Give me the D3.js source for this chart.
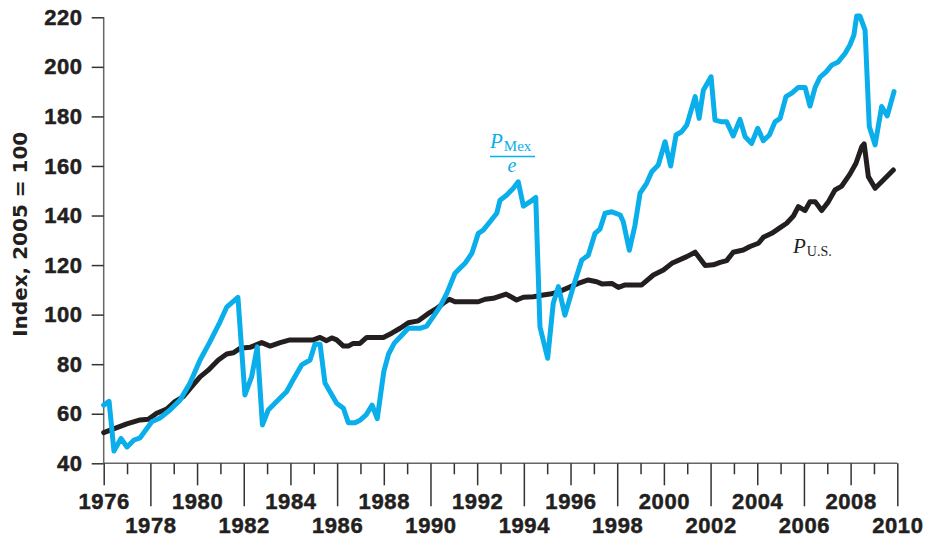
<!DOCTYPE html>
<html><head><meta charset="utf-8">
<script src="https://cdn.jsdelivr.net/npm/d3@7"></script>
<style>
html,body{margin:0;padding:0;background:#fff;}
svg{display:block;}
</style></head>
<body>
<svg id="chart" width="929" height="537"></svg>
<script>
// ---- data ----
const mexYears = [1976.0,1976.23,1976.44,1976.74,1977.0,1977.3,1977.56,1978.06,1978.41,1978.84,1979.27,1979.7,1980.13,1980.55,1980.98,1981.27,1981.75,1982.05,1982.34,1982.58,1982.8,1983.05,1983.41,1983.84,1984.11,1984.48,1984.84,1985.05,1985.27,1985.48,1985.98,1986.27,1986.48,1986.77,1987.0,1987.24,1987.5,1987.72,1988.0,1988.2,1988.45,1988.7,1989.05,1989.55,1989.84,1990.12,1990.41,1990.7,1991.05,1991.48,1991.77,1992.05,1992.26,1992.55,1992.84,1992.98,1993.27,1993.55,1993.76,1993.98,1994.27,1994.51,1994.69,1995.02,1995.26,1995.48,1995.76,1996.12,1996.48,1996.76,1997.05,1997.26,1997.48,1997.77,1998.13,1998.26,1998.52,1998.76,1998.98,1999.26,1999.48,1999.76,2000.05,2000.29,2000.52,2000.76,2000.98,2001.34,2001.51,2001.69,2002.02,2002.19,2002.48,2002.69,2002.97,2003.26,2003.48,2003.76,2004.02,2004.26,2004.52,2004.76,2004.98,2005.23,2005.48,2005.76,2006.05,2006.26,2006.48,2006.69,2006.95,2007.19,2007.47,2007.76,2007.97,2008.14,2008.26,2008.4,2008.62,2008.8,2009.05,2009.33,2009.57,2009.86];
const mexValues = [63.5,65,45,50,46.6,49.4,50.3,56.8,58.3,61.5,65.5,72.4,81.7,89,97,103,107,67.6,75,87,55.5,61.5,64.9,69,73.6,79.7,81.7,88,88,72.4,64.2,62.2,56.4,56.4,57.5,59.5,63.5,58,77,84,88.5,91,94.5,94.5,95.4,99.2,103.2,108.6,116.7,120.7,124.7,132.8,134.1,137.5,140.9,146.2,148.3,151,153.6,143.8,145.6,147.3,95.1,82.4,104.6,111.3,99.8,111.3,122,124,132.8,134.5,140.9,141.5,140.2,137.5,126,136,149,153,157.7,160.4,169.8,160,172.5,173.8,176.5,188,179.2,190.6,196,178.5,177.8,177.8,172.1,178.8,171.8,169.1,175.2,170.2,172.5,177.8,179.2,188,189.4,191.7,191.7,184.2,191.7,195.8,198,200.7,202,205.4,208.8,212.8,220.5,220.5,214.8,175.9,168.5,184,180.2,190];

const usYears = [1976.0,1976.48,1976.99,1977.56,1977.91,1978.27,1978.7,1979.05,1979.41,1979.77,1980.13,1980.48,1980.91,1981.27,1981.55,1981.84,1982.27,1982.77,1983.13,1983.56,1983.98,1984.98,1985.27,1985.55,1985.77,1985.98,1986.27,1986.48,1986.69,1986.98,1987.27,1987.98,1988.34,1988.7,1989.05,1989.48,1989.91,1990.27,1990.55,1990.81,1991.05,1992.05,1992.34,1992.69,1992.98,1993.24,1993.69,1993.98,1994.41,1994.83,1995.12,1995.48,1995.84,1996.33,1996.76,1997.12,1997.34,1997.77,1998.05,1998.34,1999.05,1999.55,1999.98,2000.34,2000.98,2001.34,2001.77,2002.12,2002.41,2002.69,2002.97,2003.4,2003.69,2004.05,2004.26,2004.62,2004.98,2005.26,2005.55,2005.76,2006.05,2006.26,2006.48,2006.76,2007.05,2007.33,2007.62,2007.97,2008.23,2008.48,2008.58,2008.76,2009.05,2009.33,2009.83];
const usValues = [52.4,54.1,55.9,57.5,57.8,60.2,61.9,64.9,66.9,70.9,74.9,77.6,81.7,84.1,84.6,86.4,86.8,88.7,87.3,88.7,89.8,89.8,90.8,89.5,90.6,89.8,87.3,87.3,88.4,88.4,90.8,90.8,92.5,94.5,96.7,97.5,100.5,102.5,104.6,106.2,105.2,105.2,106.2,106.6,107.5,108.3,105.9,107,107.2,107.9,108.3,109.2,110.6,112.6,114,113.3,112.4,112.6,111,112,112,116,118,120.7,123.4,125.2,119.8,120.1,121.1,121.8,125.2,126.1,127.5,128.8,131.2,132.8,135.1,136.9,139.8,143.6,142,145.6,145.6,142,145.6,150.3,151.9,156.7,161.1,167.8,168.9,155.7,151,153.6,158.4];

const xTickYears = d3.range(1976, 2011);
const yTickValues = [40,60,80,100,120,140,160,180,200,220];
const yTitle = "Index, 2005 = 100";

// ---- drawing ----
const svg = d3.select("#chart");
const x = d3.scaleLinear().domain([1976, 2010]).range([103.7, 897.3]);
const y = d3.scaleLinear().domain([40, 220]).range([463.3, 17.3]);

const tickFont = "'Liberation Sans', Arial, sans-serif";
const ink = "#231f20";

// y axis
const yAxis = svg.append("g").attr("transform", `translate(${x(1976)},0)`)
  .call(d3.axisLeft(y).tickValues(yTickValues).tickSize(12).tickPadding(9).tickFormat(d3.format("d")));
yAxis.select(".domain").attr("stroke", "#666").attr("stroke-width", 1.5)
  .attr("d", `M0,${y(220)}V${y(40)}`);
yAxis.selectAll(".tick line").attr("stroke", "#333").attr("stroke-width", 1.5);
yAxis.selectAll(".tick text").attr("font-family", tickFont).attr("font-weight", "bold")
  .attr("font-size", 22).attr("fill", ink).attr("stroke", ink).attr("stroke-width", 0.5)
  .attr("letter-spacing", 0.6);

// x axis
const xAxis = svg.append("g").attr("transform", `translate(0,${y(40)})`)
  .call(d3.axisBottom(x).tickValues(xTickYears).tickSize(11).tickFormat(d => d % 2 === 0 ? d : ""));
xAxis.select(".domain").attr("stroke", "#666").attr("stroke-width", 1.5)
  .attr("d", `M${x(1976)},0H${x(2010)}`);
xAxis.selectAll(".tick line").attr("stroke", "#333").attr("stroke-width", 1.5)
  .attr("y2", d => d % 2 === 1 ? 11 : (d % 4 === 0 ? 22 : 43));
xAxis.selectAll(".tick text").attr("font-family", tickFont).attr("font-weight", "bold")
  .attr("font-size", 22).attr("fill", ink).attr("stroke", ink).attr("stroke-width", 0.5)
  .attr("letter-spacing", 0.6)
  .attr("dy", null)
  .attr("y", d => d % 4 === 0 ? 46 : 70);

// y title
svg.append("text")
  .attr("transform", `translate(27,${(y(220)+y(40))/2 - 6}) rotate(-90)`)
  .attr("text-anchor", "middle")
  .attr("font-family", "'DejaVu Sans', sans-serif").attr("font-weight", "bold")
  .attr("font-size", 20).attr("fill", ink)
  .text(yTitle);

// lines
const line = d3.line().x(d => x(d[0])).y(d => y(d[1]));
const usData = usYears.map((yr, i) => [yr, usValues[i]]);
const mexData = mexYears.map((yr, i) => [yr, mexValues[i]]);

svg.append("path").datum(usData).attr("d", line)
  .attr("fill", "none").attr("stroke", ink).attr("stroke-width", 5)
  .attr("stroke-linejoin", "round").attr("stroke-linecap", "round");
svg.append("path").datum(mexData).attr("d", line)
  .attr("fill", "none").attr("stroke", "#0aaeea").attr("stroke-width", 5)
  .attr("stroke-linejoin", "round").attr("stroke-linecap", "round");

// labels
const serif = "'Liberation Serif', 'Times New Roman', serif";
const blue = "#0aaeea";
const mexLbl = svg.append("g");
const t1 = mexLbl.append("text").attr("x", 490).attr("y", 148)
  .attr("font-family", serif).attr("font-size", 21).attr("fill", blue);
t1.append("tspan").attr("font-style", "italic").text("P");
t1.append("tspan").attr("font-size", 15).attr("dy", 2.5).attr("dx", 1).text("Mex");
mexLbl.append("line").attr("x1", 490).attr("x2", 535).attr("y1", 156.5).attr("y2", 156.5)
  .attr("stroke", blue).attr("stroke-width", 1.3);
mexLbl.append("text").attr("x", 512).attr("y", 171.5).attr("text-anchor", "middle")
  .attr("font-family", serif).attr("font-style", "italic").attr("font-size", 20).attr("fill", blue).text("e");

const t2 = svg.append("text").attr("x", 793).attr("y", 253)
  .attr("font-family", serif).attr("font-size", 21).attr("fill", ink);
t2.append("tspan").attr("font-style", "italic").text("P");
t2.append("tspan").attr("font-size", 14).attr("dy", 3).attr("dx", 1).text("U.S.");
</script>
</body></html>
